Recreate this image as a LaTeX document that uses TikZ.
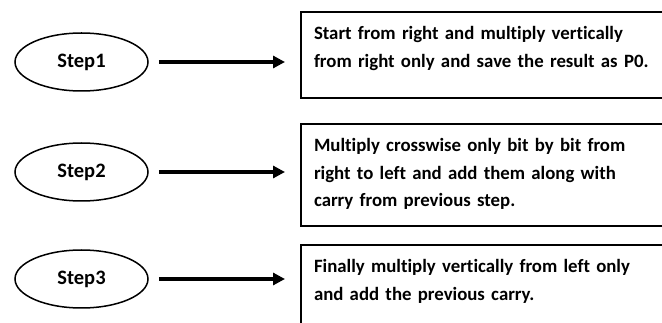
\documentclass[tikz,border=0pt]{standalone}
\usepackage{fontspec}
\setmainfont{Carlito}[Ligatures=NoCommon]
\usetikzlibrary{positioning, arrows.meta, shapes.geometric}

\begin{document}
\begin{tikzpicture}[x=1pt, y=-1pt,
    stepnode/.style={draw, ellipse, line width=1.5pt, minimum width=133pt, minimum height=58pt,
      font=\bfseries\fontsize{20.5}{24}\selectfont},
    descbox/.style={draw, line width=2pt, anchor=north west, text width=344pt, align=left,
      inner xsep=13pt, inner ysep=17pt, text height=11pt,
      font=\bfseries\fontsize{18.8}{27.5}\selectfont},
    flow/.style={-{Triangle[length=12pt, width=12pt]}, line width=3.2pt,
      shorten <=10pt, shorten >=15pt}]
    \clip (0,0) rectangle (662,323);
    \useasboundingbox (0,0) rectangle (662,323);
    % steps
    \node[stepnode] (step1) at (81.5,62) {Step1};
    \node[stepnode] (step2) at (81.5,172) {Step2};
    \node[stepnode] (step3) at (81.5,279) {Step3};
    % descriptions
    \node[descbox, text depth=41pt] (desc1) at (300,11)
      {Start from right and multiply vertically\\from right only and save the result as P0.};
    \node[descbox, text depth=57pt] (desc2) at (300,123)
      {Multiply crosswise only bit by bit from\\right to left and add them along with\\carry from previous step.};
    \node[descbox, text depth=60pt] (desc3) at (300,244)
      {Finally multiply vertically from left only\\and add the previous carry.};
    \draw[flow] (step1.east) -- (step1.east -| desc1.west);
    \draw[flow] (step2.east) -- (step2.east -| desc2.west);
    \draw[flow] (step3.east) -- (step3.east -| desc3.west);
  \end{tikzpicture}
\end{document}
